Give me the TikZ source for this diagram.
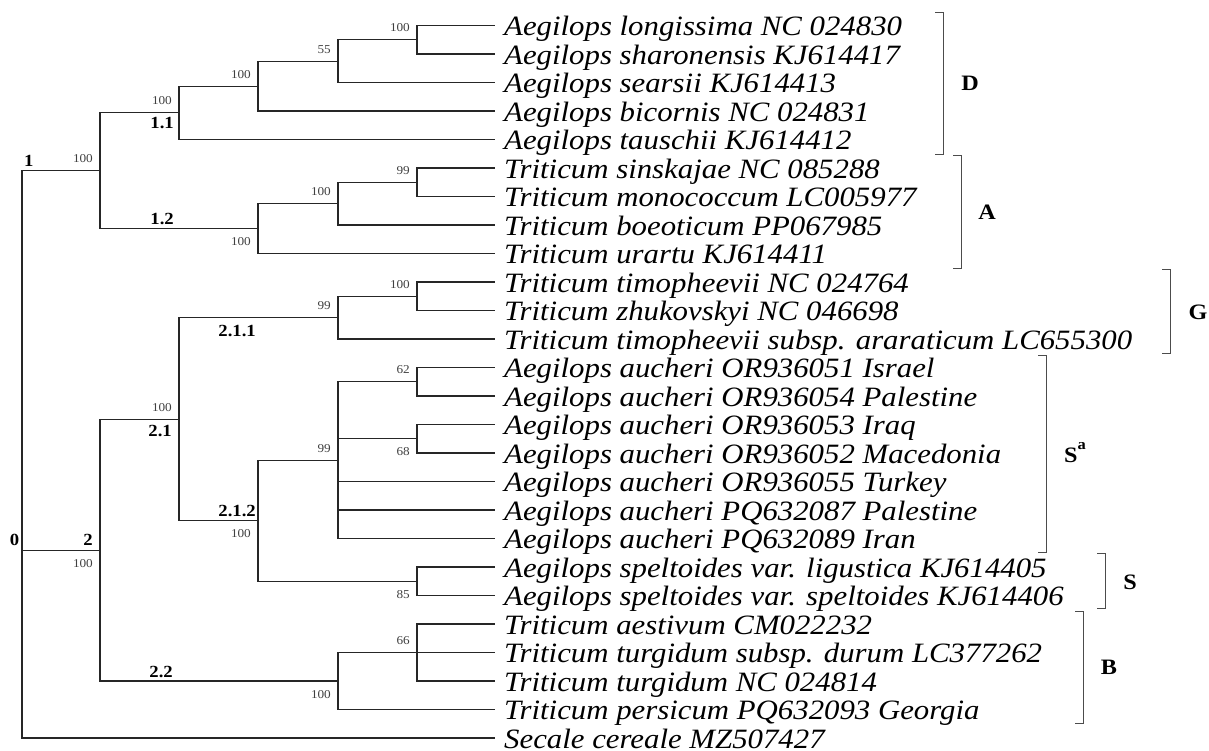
\documentclass[tikz,border=0pt]{standalone}
\usepackage{fontspec}
\setmainfont{Liberation Serif}[FakeStretch=1.1]
\begin{document}
\begin{tikzpicture}[x=1pt,y=-1pt,
  br/.style={draw=black!85, line width=1.1pt},
  leaf/.style={anchor=west, inner xsep=9pt, inner ysep=0pt, text height=21pt, text depth=1pt, font=\itshape\fontsize{28}{28}\selectfont},
  sup/.style={inner sep=0pt, font=\fontsize{12}{12}\selectfont, text=black!75},
  supa/.style={sup, anchor=south east},
  supb/.style={sup, anchor=north east},
  clade/.style={inner sep=0pt, font=\bfseries\fontsize{17}{17}\selectfont},
  grp/.style={inner sep=0pt, font=\bfseries\fontsize{22}{22}\selectfont},
  bkt/.style={draw=black!70, line width=1pt}]
\fill[white] (0,0) rectangle (1209,750);
\useasboundingbox (0,0) rectangle (1209,750);
% leaves
\foreach \t [count=\i] in {
 Aegilops longissima NC 024830,
 Aegilops sharonensis KJ614417,
 Aegilops searsii KJ614413,
 Aegilops bicornis NC 024831,
 Aegilops tauschii KJ614412,
 Triticum sinskajae NC 085288,
 Triticum monococcum LC005977,
 Triticum boeoticum PP067985,
 Triticum urartu KJ614411,
 Triticum timopheevii NC 024764,
 Triticum zhukovskyi NC 046698,
 Triticum timopheevii subsp. araraticum LC655300,
 Aegilops aucheri OR936051 Israel,
 Aegilops aucheri OR936054 Palestine,
 Aegilops aucheri OR936053 Iraq,
 Aegilops aucheri OR936052 Macedonia,
 Aegilops aucheri OR936055 Turkey,
 Aegilops aucheri PQ632087 Palestine,
 Aegilops aucheri PQ632089 Iran,
 Aegilops speltoides var. ligustica KJ614405,
 Aegilops speltoides var. speltoides KJ614406,
 Triticum aestivum CM022232,
 Triticum turgidum subsp. durum LC377262,
 Triticum turgidum NC 024814,
 Triticum persicum PQ632093 Georgia,
 Secale cereale MZ507427}
 { \node[leaf] (L\i) at (495,{25.5+28.5*(\i-1)}) {\t}; }
% internal nodes
\coordinate (n5a) at (417,39.75);
\coordinate (n4a) at (338,61.125);
\coordinate (n3a) at (258,86.06);
\coordinate (n11) at (179,112.78);
\coordinate (n5b) at (417,182.25);
\coordinate (n4b) at (338,203.625);
\coordinate (n12) at (258,228.56);
\coordinate (n1) at (100,170.67);
\coordinate (n5c) at (417,296.25);
\coordinate (n211) at (338,317.625);
\coordinate (n5d) at (417,381.75);
\coordinate (n5e) at (417,438.75);
\coordinate (nSa) at (338,460.125);
\coordinate (n5f) at (417,581.25);
\coordinate (n212) at (258,520.69);
\coordinate (n21) at (179,419.16);
\coordinate (n5g) at (417,652.5);
\coordinate (n22) at (338,681);
\coordinate (n2) at (100,550.08);
\coordinate (root) at (22,550.08);
% branches
\draw[br] (n5a) |- (L1.west) (n5a) |- (L2.west);
\draw[br] (n4a) |- (n5a) (n4a) |- (L3.west);
\draw[br] (n3a) |- (n4a) (n3a) |- (L4.west);
\draw[br] (n11) |- (n3a) (n11) |- (L5.west);
\draw[br] (n5b) |- (L6.west) (n5b) |- (L7.west);
\draw[br] (n4b) |- (n5b) (n4b) |- (L8.west);
\draw[br] (n12) |- (n4b) (n12) |- (L9.west);
\draw[br] (n1) |- (n11) (n1) |- (n12);
\draw[br] (n5c) |- (L10.west) (n5c) |- (L11.west);
\draw[br] (n211) |- (n5c) (n211) |- (L12.west);
\draw[br] (n5d) |- (L13.west) (n5d) |- (L14.west);
\draw[br] (n5e) |- (L15.west) (n5e) |- (L16.west);
\draw[br] (nSa) |- (n5d) (nSa) |- (n5e) (nSa) |- (L17.west) (nSa) |- (L18.west) (nSa) |- (L19.west);
\draw[br] (n5f) |- (L20.west) (n5f) |- (L21.west);
\draw[br] (n212) |- (nSa) (n212) |- (n5f);
\draw[br] (n21) |- (n211) (n21) |- (n212);
\draw[br] (n5g) |- (L22.west) (n5g) |- (L23.west) (n5g) |- (L24.west);
\draw[br] (n22) |- (n5g) (n22) |- (L25.west);
\draw[br] (n2) |- (n21) (n2) |- (n22);
\draw[br] (root) |- (n1) (root) |- (n2) (root) |- (L26.west);
% support values
\node[supa] at ([shift={(-7,-7.5)}]n5a) {100};
\node[supa] at ([shift={(-7,-7.5)}]n4a) {55};
\node[supa] at ([shift={(-7,-7.5)}]n3a) {100};
\node[supa] at ([shift={(-7,-7.5)}]n11) {100};
\node[supa] at ([shift={(-7,-7.5)}]n1) {100};
\node[supa] at ([shift={(-7,-7.5)}]n5b) {99};
\node[supa] at ([shift={(-7,-7.5)}]n4b) {100};
\node[supb] at ([shift={(-7,9)}]n12) {100};
\node[supa] at ([shift={(-7,-7.5)}]n5c) {100};
\node[supa] at ([shift={(-7,-7.5)}]n211) {99};
\node[supa] at ([shift={(-7,-7.5)}]n5d) {62};
\node[supb] at ([shift={(-7,9)}]n5e) {68};
\node[supa] at ([shift={(-7,-7.5)}]nSa) {99};
\node[supa] at ([shift={(-7,-7.5)}]n21) {100};
\node[supb] at ([shift={(-7,9)}]n212) {100};
\node[supb] at ([shift={(-7,9)}]n5f) {85};
\node[supa] at ([shift={(-7,-7.5)}]n5g) {66};
\node[supb] at ([shift={(-7,9)}]n22) {100};
\node[supb] at ([shift={(-7,9)}]n2) {100};
% clade labels
\node[clade, anchor=south west] at (24,167) {1};
\node[clade, anchor=north east] at (174,117) {1.1};
\node[clade, anchor=south east] at (174,225) {1.2};
\node[clade, anchor=north east] at (256,325) {2.1.1};
\node[clade, anchor=north east] at (172,425) {2.1};
\node[clade, anchor=south east] at (256,517) {2.1.2};
\node[clade] at (14.5,540) {0};
\node[clade, anchor=south east] at (93,546) {2};
\node[clade, anchor=south east] at (173,678) {2.2};
% brackets
\coordinate (Dt) at (943,12);   \coordinate (Db) at (943,154);
\coordinate (At) at (961,155);  \coordinate (Ab) at (961,268);
\coordinate (Gt) at (1170,269); \coordinate (Gb) at (1170,353);
\coordinate (Sat) at (1046,355); \coordinate (Sab) at (1046,552);
\coordinate (St) at (1105,553); \coordinate (Sb) at (1105,608);
\coordinate (Bt) at (1083,611); \coordinate (Bb) at (1083,723);
\foreach \b in {D,A,G,Sa,S,B}
  \draw[bkt] ([xshift=-8pt]\b t) -- (\b t) -- (\b b) -- ([xshift=-8pt]\b b);
\node[grp] (gD) at (970,83.5) {D};
\node[grp] (gA) at (987,212.5) {A};
\node[grp] (gG) at (1198,312.5) {G};
\node[grp, anchor=base west] (gSa) at (1064,462) {S\raisebox{13pt}{\fontsize{15}{15}\selectfont a}};
\node[grp] (gS) at (1130,582) {S};
\node[grp] (gB) at (1109,667) {B};
\end{tikzpicture}
\end{document}
